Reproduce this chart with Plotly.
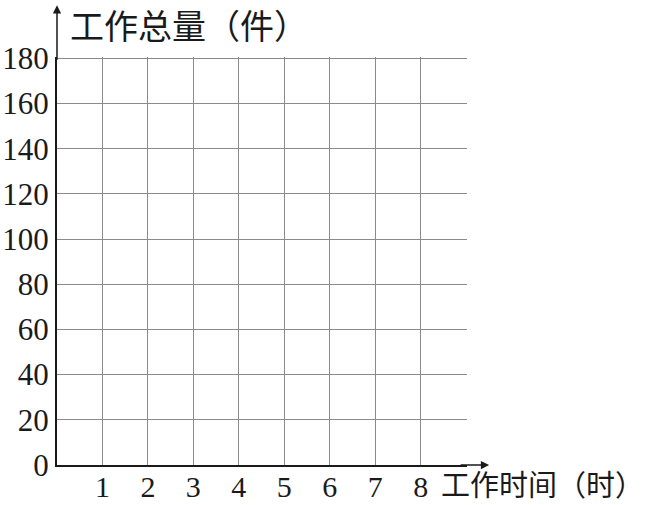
import plotly.graph_objects as go

# axis values (blank worksheet grid)
x_ticks = [1, 2, 3, 4, 5, 6, 7, 8]
x_grid_end = 9
y_ticks = [0, 20, 40, 60, 80, 100, 120, 140, 160, 180]
x_title = "工作时间（时）"
y_title = "工作总量（件）"

serif = "Liberation Serif, Times New Roman, serif"
cjk = "Noto Sans CJK SC"
ink = "#1a1a1a"

fig = go.Figure()

# invisible trace so the axes are laid out
fig.add_trace(go.Scatter(x=[0, x_grid_end], y=[y_ticks[0], y_ticks[-1]],
                         mode="markers", marker=dict(opacity=0),
                         hoverinfo="skip", showlegend=False))

fig.update_xaxes(
    range=[0, x_grid_end + 0.02],
    tickvals=x_ticks + [x_grid_end],
    ticktext=[str(v) for v in x_ticks] + [""],
    showgrid=True, gridcolor="#8a8a8a", gridwidth=1,
    showline=True, linecolor=ink, linewidth=2,
    zeroline=False, ticks="", ticklen=0, automargin=False,
    ticklabelstandoff=-6,
    tickfont=dict(family=serif, size=30, color=ink),
)
fig.update_yaxes(
    range=[y_ticks[0], y_ticks[-1] + 0.6],
    tickvals=y_ticks,
    showgrid=True, gridcolor="#8a8a8a", gridwidth=1,
    showline=True, linecolor=ink, linewidth=2,
    zeroline=False, ticks="", ticklen=0, automargin=False,
    tickfont=dict(family=serif, size=31, color=ink),
)

# arrow heads on the axes
fig.add_annotation(xref="paper", yref="paper", x=0, y=1.127,
                   ax=0, ay=56, axref="pixel", ayref="pixel",
                   showarrow=True, arrowhead=2, arrowsize=1.1,
                   arrowwidth=1.5, arrowcolor=ink, text="")
fig.add_annotation(xref="paper", yref="paper", x=1.054, y=0,
                   ax=-30, ay=0, axref="pixel", ayref="pixel",
                   showarrow=True, arrowhead=2, arrowsize=1.1,
                   arrowwidth=1.5, arrowcolor=ink, text="")

# axis titles
fig.add_annotation(xref="paper", yref="paper", x=0.027, y=1.08,
                   xanchor="left", yanchor="middle", showarrow=False,
                   text=y_title, font=dict(family=cjk, size=34, color=ink))
fig.add_annotation(xref="paper", yref="paper", x=0.934, y=-0.098,
                   xanchor="left", yanchor="bottom", showarrow=False,
                   borderpad=0,
                   text=x_title, font=dict(family=cjk, size=29, color=ink))

fig.update_layout(
    width=668, height=505,
    margin=dict(l=57, r=201, t=57, b=40),
    plot_bgcolor="white", paper_bgcolor="white",
    showlegend=False,
)

# page default body margin would push the figure 8px off the window
fig.write_html("out.html", config={"displayModeBar": False},
               post_script="document.body.style.margin='0';")
